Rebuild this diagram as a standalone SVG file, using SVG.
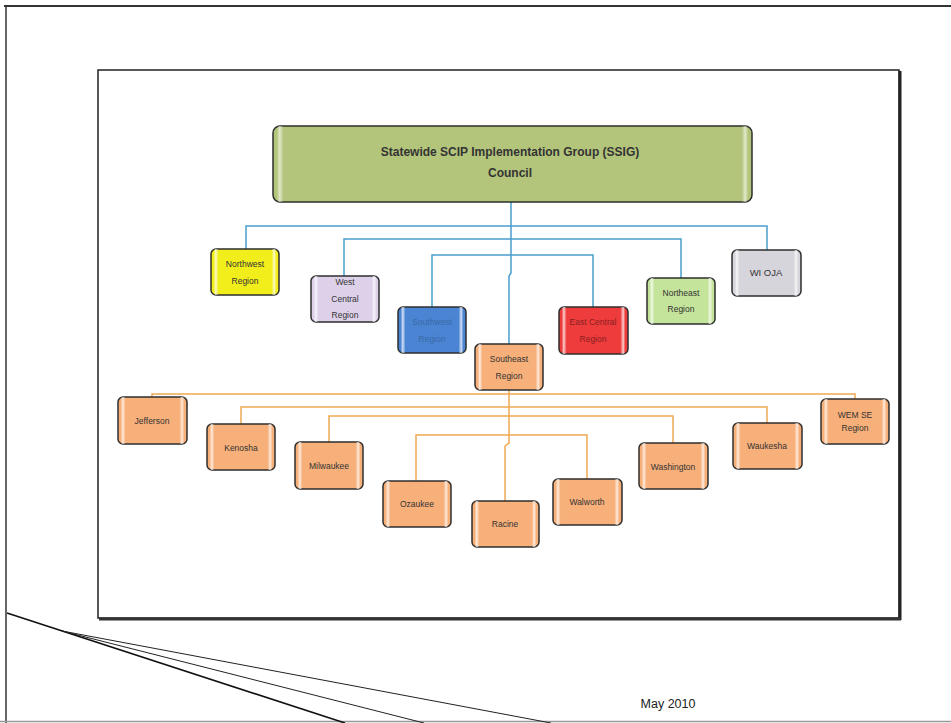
<svg xmlns="http://www.w3.org/2000/svg" width="951" height="723" viewBox="0 0 951 723">
<defs>
<linearGradient id="bevel" x1="0" y1="0" x2="1" y2="0">
<stop offset="0" stop-color="#fff" stop-opacity="0"/>
<stop offset="0.04" stop-color="#fff" stop-opacity="0"/>
<stop offset="0.07" stop-color="#fff" stop-opacity="0.75"/>
<stop offset="0.11" stop-color="#fff" stop-opacity="0"/>
<stop offset="0.89" stop-color="#fff" stop-opacity="0"/>
<stop offset="0.93" stop-color="#fff" stop-opacity="0.75"/>
<stop offset="0.96" stop-color="#fff" stop-opacity="0"/>
<stop offset="1" stop-color="#fff" stop-opacity="0"/>
</linearGradient>
<linearGradient id="bevelWide" x1="0" y1="0" x2="1" y2="0">
<stop offset="0" stop-color="#fff" stop-opacity="0"/>
<stop offset="0.008" stop-color="#fff" stop-opacity="0"/>
<stop offset="0.014" stop-color="#fff" stop-opacity="0.6"/>
<stop offset="0.022" stop-color="#fff" stop-opacity="0"/>
<stop offset="0.978" stop-color="#fff" stop-opacity="0"/>
<stop offset="0.986" stop-color="#fff" stop-opacity="0.6"/>
<stop offset="0.992" stop-color="#fff" stop-opacity="0"/>
<stop offset="1" stop-color="#fff" stop-opacity="0"/>
</linearGradient>
</defs>
<style>
.box{stroke:#2e2e2e;stroke-width:1.5}
.hl{fill:url(#bevel);stroke:none}
.t{font-family:"Liberation Sans",Arial,sans-serif;font-size:8.5px;fill:#333;text-anchor:middle}
.title{font-family:"Liberation Sans",Arial,sans-serif;font-size:12px;font-weight:bold;fill:#333;text-anchor:middle}
.blue{fill:none;stroke:#4a9fd0;stroke-width:1.5}
.orange{fill:none;stroke:#f0a850;stroke-width:1.5}
.frame{fill:none;stroke:#222}
</style>
<rect width="951" height="723" fill="#fff"/>
<g id="page">
<line x1="4" y1="6" x2="951" y2="6" stroke="#333" stroke-width="2"/>
<line x1="6" y1="6" x2="6" y2="723" stroke="#333" stroke-width="1.5"/>
<line x1="0" y1="721.5" x2="951" y2="721.5" stroke="#999" stroke-width="1.5"/>
<line x1="7" y1="613" x2="345" y2="723" stroke="#111" stroke-width="1.6"/>
<line x1="62" y1="631" x2="424" y2="723" stroke="#222" stroke-width="1"/>
<line x1="62" y1="631" x2="551" y2="723" stroke="#222" stroke-width="1"/>
<text x="668" y="708" style="font-family:'Liberation Sans',Arial,sans-serif;font-size:12.5px;fill:#222" text-anchor="middle">May 2010</text>
</g>
<g id="inner-frame">
<rect x="98" y="70" width="801" height="548" class="frame" stroke-width="1.5"/>
<line x1="900" y1="71" x2="900" y2="620" stroke="#222" stroke-width="3"/>
<line x1="99" y1="619" x2="901" y2="619" stroke="#333" stroke-width="3"/>
</g>
<g id="connectors">
<polyline class="blue" points="511,202 511,273 509,276 509,344"/>
<polyline class="blue" points="246,249 246,226 767,226 767,250"/>
<polyline class="blue" points="344,276 344,239 681,239 681,278"/>
<polyline class="blue" points="432,307 432,255 593,255 593,307"/>
<polyline class="orange" points="509,390 509,443 505,446 505,501"/>
<polyline class="orange" points="152,397 152,394 855,394 855,399"/>
<polyline class="orange" points="241,424 241,407 767,407 767,423"/>
<polyline class="orange" points="329,442 329,416 673,416 673,443"/>
<polyline class="orange" points="416,481 416,435 587,435 587,479"/>
</g>
<g id="ssig">
<rect x="273" y="126" width="479" height="76" rx="7" class="box" fill="#b3c57b"/>
<rect x="273" y="126" width="479" height="76" rx="7" fill="url(#bevelWide)"/>
<text x="510" y="156" class="title">Statewide SCIP Implementation Group (SSIG)</text>
<text x="510" y="177" class="title">Council</text>
</g>
<g id="northwest">
<rect x="211" y="249" width="68" height="46" rx="5" class="box" fill="#f2ee1c"/>
<rect x="211" y="249" width="68" height="46" rx="5" class="hl"/>
<text x="245" y="267" class="t">Northwest</text>
<text x="245" y="284" class="t">Region</text>
</g>
<g id="westcentral">
<rect x="311" y="276" width="68" height="46" rx="5" class="box" fill="#ddd1ea"/>
<rect x="311" y="276" width="68" height="46" rx="5" class="hl"/>
<text x="345" y="285" class="t">West</text>
<text x="345" y="302" class="t">Central</text>
<text x="345" y="318" class="t">Region</text>
</g>
<g id="southwest">
<rect x="398" y="307" width="68" height="46" rx="5" class="box" fill="#4a84d2"/>
<rect x="398" y="307" width="68" height="46" rx="5" class="hl"/>
<text x="432" y="325" class="t" style="fill:#3a6aa8">Southwest</text>
<text x="432" y="342" class="t" style="fill:#3a6aa8">Region</text>
</g>
<g id="southeast">
<rect x="475" y="344" width="68" height="46" rx="5" class="box" fill="#f7b07a"/>
<rect x="475" y="344" width="68" height="46" rx="5" class="hl"/>
<text x="509" y="362" class="t">Southeast</text>
<text x="509" y="379" class="t">Region</text>
</g>
<g id="eastcentral">
<rect x="559" y="307" width="69" height="47" rx="5" class="box" fill="#ee3c3c"/>
<rect x="559" y="307" width="69" height="47" rx="5" class="hl"/>
<text x="593" y="325" class="t" style="fill:#8a2020">East Central</text>
<text x="593" y="342" class="t" style="fill:#8a2020">Region</text>
</g>
<g id="northeast">
<rect x="647" y="278" width="68" height="46" rx="5" class="box" fill="#c3e49a"/>
<rect x="647" y="278" width="68" height="46" rx="5" class="hl"/>
<text x="681" y="296" class="t">Northeast</text>
<text x="681" y="312" class="t">Region</text>
</g>
<g id="wioja">
<rect x="732" y="250" width="69" height="46" rx="5" class="box" fill="#d6d5dc"/>
<rect x="732" y="250" width="69" height="46" rx="5" class="hl"/>
<text x="766" y="276" class="t" style="font-size:9.5px">WI OJA</text>
</g>
<g id="jefferson">
<rect x="118" y="397" width="69" height="47" rx="5" class="box" fill="#f7b07a"/>
<rect x="118" y="397" width="69" height="47" rx="5" class="hl"/>
<text x="152" y="424" class="t">Jefferson</text>
</g>
<g id="kenosha">
<rect x="207" y="424" width="68" height="46" rx="5" class="box" fill="#f7b07a"/>
<rect x="207" y="424" width="68" height="46" rx="5" class="hl"/>
<text x="241" y="451" class="t">Kenosha</text>
</g>
<g id="milwaukee">
<rect x="295" y="442" width="68" height="47" rx="5" class="box" fill="#f7b07a"/>
<rect x="295" y="442" width="68" height="47" rx="5" class="hl"/>
<text x="329" y="469" class="t">Milwaukee</text>
</g>
<g id="ozaukee">
<rect x="383" y="481" width="68" height="46" rx="5" class="box" fill="#f7b07a"/>
<rect x="383" y="481" width="68" height="46" rx="5" class="hl"/>
<text x="417" y="507" class="t">Ozaukee</text>
</g>
<g id="racine">
<rect x="472" y="501" width="67" height="46" rx="5" class="box" fill="#f7b07a"/>
<rect x="472" y="501" width="67" height="46" rx="5" class="hl"/>
<text x="505" y="527" class="t">Racine</text>
</g>
<g id="walworth">
<rect x="553" y="479" width="69" height="46" rx="5" class="box" fill="#f7b07a"/>
<rect x="553" y="479" width="69" height="46" rx="5" class="hl"/>
<text x="587" y="505" class="t">Walworth</text>
</g>
<g id="washington">
<rect x="639" y="443" width="69" height="46" rx="5" class="box" fill="#f7b07a"/>
<rect x="639" y="443" width="69" height="46" rx="5" class="hl"/>
<text x="673" y="470" class="t">Washington</text>
</g>
<g id="waukesha">
<rect x="733" y="423" width="69" height="46" rx="5" class="box" fill="#f7b07a"/>
<rect x="733" y="423" width="69" height="46" rx="5" class="hl"/>
<text x="767" y="449" class="t">Waukesha</text>
</g>
<g id="wemse">
<rect x="821" y="399" width="68" height="45" rx="5" class="box" fill="#f7b07a"/>
<rect x="821" y="399" width="68" height="45" rx="5" class="hl"/>
<text x="855" y="418" class="t">WEM SE</text>
<text x="855" y="431" class="t">Region</text>
</g>
</svg>
